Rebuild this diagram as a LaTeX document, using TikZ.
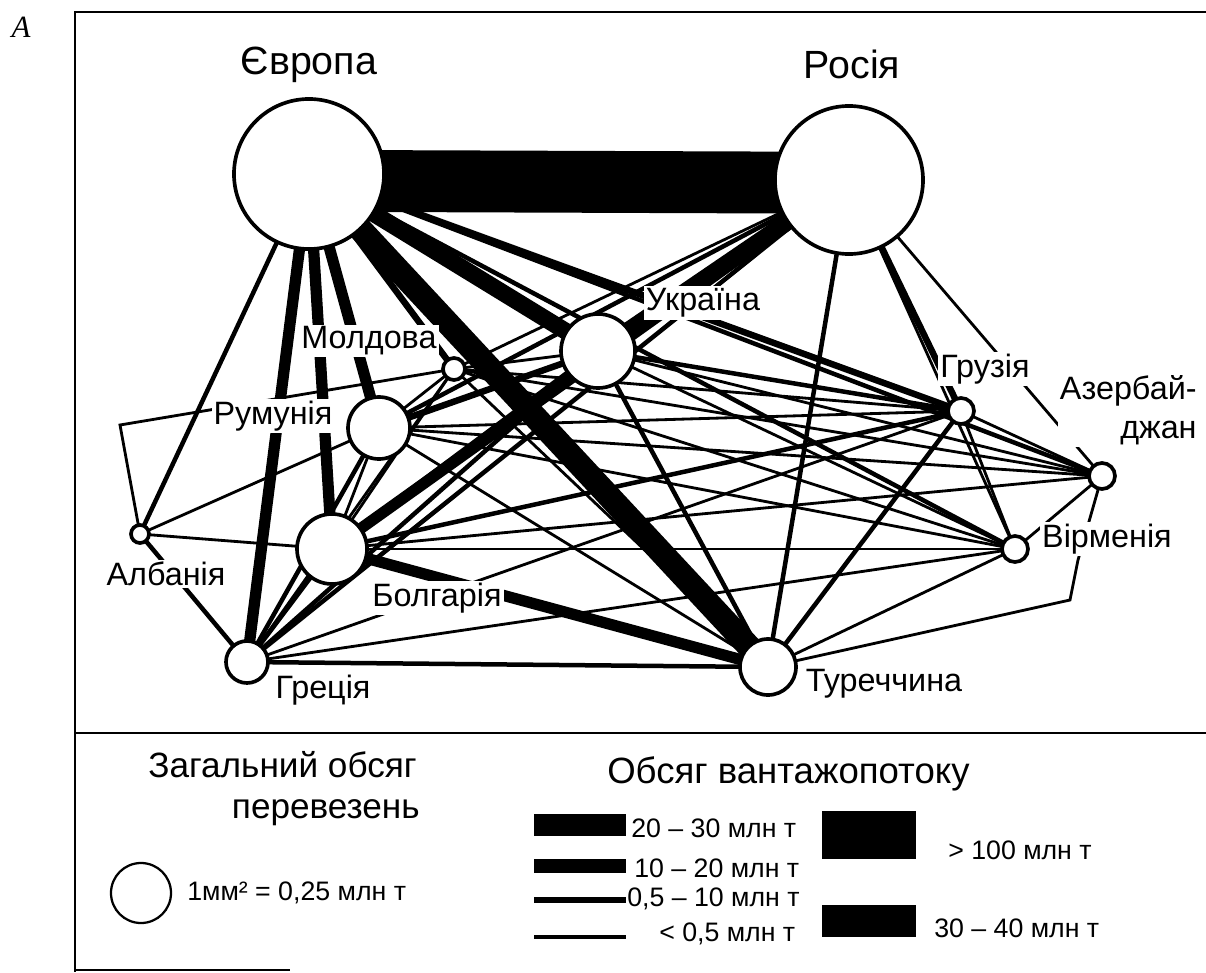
\documentclass[tikz,border=0pt]{standalone}
\usepackage{fontspec}
\setmainfont{Liberation Sans}
\newfontfamily\serifit{Liberation Serif}
\pgfdeclarelayer{bg}
\pgfsetlayers{bg,main}
\begin{document}
\begin{tikzpicture}[x=0.025cm,y=-0.025cm,
  city/.style={circle, draw, fill=white, line width=2.6pt, inner sep=0pt, minimum size=#1},
  lbl/.style={fill=white, inner sep=1.5pt, font=\fontsize{23}{25}\selectfont},
  big/.style={font=\fontsize{28}{30}\selectfont},
  legt/.style={font=\fontsize{26}{28}\selectfont, inner sep=0pt},
  legtb/.style={font=\fontsize{25}{27}\selectfont, inner sep=0pt},
  legs/.style={font=\fontsize{19}{20}\selectfont, inner sep=0pt},
  ethin/.style={line width=2pt},
  emed/.style={line width=3.2pt},
  emid/.style={line width=4.6pt},
  ethick/.style={line width=8pt},
  evthick/.style={line width=12pt},
  eheavy/.style={line width=17pt},
  ehuge/.style={line width=44pt},
  frame/.style={line width=2pt}
]
\useasboundingbox (0,0) rectangle (1206,973);

% frame
\coordinate (f1) at (75,12);
\coordinate (f2) at (1206,12);
\coordinate (f3) at (75,972);
\coordinate (s1) at (75,733);
\coordinate (s2) at (1206,733);
\coordinate (b1) at (75,970);
\coordinate (b2) at (290,970);
\draw[frame] (f2) -- (f1) -- (f3);
\draw[frame] (s1) -- (s2);
\draw[line width=1.2pt] (b1) -- (b2);
\node[font=\serifit\itshape\fontsize{22}{24}\selectfont] (A) at (21,27) {A};

% cities
\node[city=3.75cm] (E)  at (309,174) {};
\node[city=3.7cm]  (R)  at (849,180) {};
\node[city=1.85cm] (U)  at (598,351) {};
\node[city=0.55cm] (M)  at (454,369) {};
\node[city=1.55cm] (Ro) at (379,428) {};
\node[city=1.75cm] (B)  at (332,549) {};
\node[city=0.45cm] (A1) at (140,534) {};
\node[city=1.05cm] (G)  at (247,662) {};
\node[city=1.4cm]  (T)  at (768,667) {};
\node[city=0.65cm] (Ge) at (961,411) {};
\node[city=0.65cm] (Az) at (1102,476) {};
\node[city=0.65cm] (V)  at (1015,549) {};

\coordinate (pa) at (120,425);
\coordinate (pt1) at (1070,600);
\coordinate (pt2) at (1078,560);

\begin{pgfonlayer}{bg}
\draw[ehuge] ([yshift=-0.17cm]E.center) -- ([yshift=-0.07cm]R.center);
\foreach \a/\b/\s in {
  E/T/eheavy, E/U/evthick, R/U/evthick,
  E/Ro/ethick, E/B/ethick, E/G/ethick, B/T/ethick, B/R/ethick,
  E/Ge/emid, E/Az/emed, E/V/emed, E/M/emid, E/A1/emed,
  R/Ge/emid, R/Az/ethin, R/V/ethin, R/T/emed, R/Ro/emed, R/M/ethin, R/G/emed,
  U/T/emed, U/Ge/emed, U/Az/ethin, U/V/ethin, U/G/emed, U/B/emid, U/Ro/emid, U/M/ethin,
  Ro/Ge/ethin, Ro/Az/ethin, Ro/V/ethin, Ro/T/ethin, Ro/G/emed, Ro/A1/ethin, Ro/B/ethin, Ro/M/ethin,
  M/Ge/ethin, M/Az/ethin, M/V/ethin, M/T/ethin, M/B/ethin, M/G/ethin,
  B/Ge/emed, B/Az/ethin, B/V/ethin, B/G/emed, B/A1/ethin,
  G/A1/emed, G/T/emed, G/V/ethin, G/Ge/ethin,
  T/Ge/emed, T/V/ethin,
  Ge/V/ethin, Ge/Az/ethin, V/Az/ethin}
  \draw[\s] (\a.center) -- (\b.center);
\draw[ethin] (A1.center) -- (pa) -- (M.center);
\draw[ethin] (T.center) -- (pt1) -- (pt2) -- (Az.center);
\end{pgfonlayer}

% labels
\node[big] (lE) at (309,65) {Європа};
\node[big] (lR) at (852,64) {Росія};
\node[lbl] (lU) at (703,303) {Україна};
\node[lbl] (lM) at (369,341) {Молдова};
\node[lbl] (lRo) at (273,416) {Румунія};
\node[lbl] (lB) at (437,598) {Болгарія};
\node[lbl] (lA) at (166,574) {Албанія};
\node[lbl] (lG) at (323,690) {Греція};
\node[lbl] (lT) at (884,684) {Туреччина};
\node[lbl] (lGe) at (985,369) {Грузія};
\node[lbl, align=right, anchor=east, font=\fontsize{23}{28}\selectfont] (lAz) at (1199,410) {Азербай-\\джан};
\node[lbl] (lV) at (1107,539) {Вірменія};

% legend
\node[legtb, anchor=base east] (lg1a) at (417,777) {Загальний обсяг};
\node[legtb, anchor=base east] (lg1b) at (420,818) {перевезень};
\node[circle, draw, line width=1.6pt, minimum size=1.5cm, inner sep=0pt] (lc) at (141,893) {};
\node[legs, anchor=west] (lct) at (187,893) {1мм² = 0,25 млн т};
\node[legt, anchor=base west] (lg2) at (607,783) {Обсяг вантажопотоку};

\node[fill=black, inner sep=0pt, minimum width=2.3cm, minimum height=0.55cm] (k1) at (580,825) {};
\node[fill=black, inner sep=0pt, minimum width=2.3cm, minimum height=0.33cm] (k2) at (580,866) {};
\node[fill=black, inner sep=0pt, minimum width=2.3cm, minimum height=0.13cm] (k3) at (580,900) {};
\node[fill=black, inner sep=0pt, minimum width=2.3cm, minimum height=0.08cm] (k4) at (580,937) {};
\node[fill=black, inner sep=0pt, minimum width=2.33cm, minimum height=1.18cm] (k5) at (869,835) {};
\node[fill=black, inner sep=0pt, minimum width=2.33cm, minimum height=0.82cm] (k6) at (869,921) {};

\node[legs, anchor=west] (t1) at (631,828) {20 – 30 млн т};
\node[legs, anchor=west] (t2) at (634,868) {10 – 20 млн т};
\node[legs, anchor=west] (t3) at (627,899) {0,5 – 10 млн т};
\node[legs, anchor=west] (t4) at (659,934) {< 0,5 млн т};
\node[legs, anchor=west] (t5) at (948,850) {> 100 млн т};
\node[legs, anchor=west] (t6) at (934,928) {30 – 40 млн т};
\end{tikzpicture}
\end{document}
